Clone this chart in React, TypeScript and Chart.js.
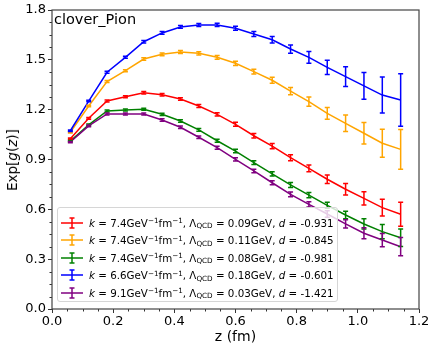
import React, { useEffect, useRef } from 'react';
import { Chart, registerables } from 'chart.js';

Chart.register(...registerables);

const zValues = [0.06, 0.12, 0.18, 0.24, 0.30, 0.36, 0.42, 0.48, 0.54, 0.60, 0.66, 0.72, 0.78, 0.84, 0.90, 0.96, 1.02, 1.08, 1.14];

const redValues = [1.025, 1.148, 1.252, 1.278, 1.302, 1.290, 1.264, 1.222, 1.172, 1.112, 1.043, 0.981, 0.911, 0.847, 0.781, 0.721, 0.666, 0.610, 0.570];
const redErrors = [0.004, 0.005, 0.006, 0.006, 0.007, 0.007, 0.008, 0.009, 0.010, 0.012, 0.014, 0.016, 0.018, 0.020, 0.026, 0.034, 0.040, 0.050, 0.072];

const orangeValues = [1.064, 1.222, 1.369, 1.435, 1.505, 1.533, 1.547, 1.539, 1.515, 1.479, 1.429, 1.377, 1.312, 1.248, 1.178, 1.118, 1.058, 0.998, 0.961];
const orangeErrors = [0.004, 0.005, 0.006, 0.006, 0.007, 0.008, 0.009, 0.010, 0.011, 0.013, 0.015, 0.018, 0.022, 0.028, 0.035, 0.050, 0.065, 0.084, 0.120];

const greenValues = [1.011, 1.108, 1.192, 1.198, 1.202, 1.172, 1.132, 1.078, 1.013, 0.951, 0.881, 0.813, 0.747, 0.686, 0.624, 0.566, 0.512, 0.466, 0.429];
const greenErrors = [0.004, 0.005, 0.006, 0.006, 0.006, 0.007, 0.007, 0.008, 0.009, 0.010, 0.011, 0.013, 0.015, 0.016, 0.018, 0.023, 0.031, 0.043, 0.052];

const blueValues = [1.073, 1.252, 1.425, 1.515, 1.609, 1.662, 1.698, 1.710, 1.710, 1.690, 1.656, 1.621, 1.565, 1.515, 1.455, 1.399, 1.343, 1.288, 1.258];
const blueErrors = [0.004, 0.005, 0.006, 0.006, 0.007, 0.008, 0.008, 0.009, 0.010, 0.012, 0.015, 0.020, 0.025, 0.035, 0.043, 0.060, 0.081, 0.108, 0.158];

const purpleValues = [1.005, 1.102, 1.174, 1.174, 1.174, 1.138, 1.094, 1.034, 0.971, 0.901, 0.831, 0.760, 0.690, 0.630, 0.572, 0.512, 0.456, 0.415, 0.375];
const purpleErrors = [0.004, 0.005, 0.006, 0.006, 0.006, 0.007, 0.007, 0.008, 0.009, 0.010, 0.011, 0.012, 0.014, 0.016, 0.020, 0.025, 0.033, 0.040, 0.055];

const seriesValues = [redValues, orangeValues, greenValues, blueValues, purpleValues];
const seriesErrors = [redErrors, orangeErrors, greenErrors, blueErrors, purpleErrors];
const seriesColors = ['#ff0000', '#ffa500', '#008000', '#0000ff', '#800080'];
const kParams = ['7.4', '7.4', '7.4', '6.6', '9.1'];
const lambdaParams = ['0.09', '0.11', '0.08', '0.18', '0.03'];
const dParams = ['-0.931', '-0.845', '-0.981', '-0.601', '-1.421'];

const xMin = 0;
const xMax = 1.2;
const xStep = 0.2;
const xMinorStep = 0.05;
const yMin = 0;
const yMax = 1.8;
const yStep = 0.3;
const yMinorStep = 0.075;

const FONT = "'DejaVu Sans', sans-serif";

const errorBarPlugin = {
  id: 'errorBars',
  afterDatasetsDraw(chart: any) {
    const ctx = chart.ctx;
    const xs = chart.scales.x;
    const ys = chart.scales.y;
    const cap = 2.5;
    chart.data.datasets.forEach((ds: any) => {
      ctx.save();
      ctx.strokeStyle = ds.borderColor;
      ctx.lineWidth = 1.5;
      ds.data.forEach((p: any, i: number) => {
        const e = ds.errors[i];
        const px = xs.getPixelForValue(p.x);
        const y1 = ys.getPixelForValue(p.y - e);
        const y2 = ys.getPixelForValue(p.y + e);
        ctx.beginPath();
        ctx.moveTo(px, y1);
        ctx.lineTo(px, y2);
        ctx.moveTo(px - cap, y1);
        ctx.lineTo(px + cap, y1);
        ctx.moveTo(px - cap, y2);
        ctx.lineTo(px + cap, y2);
        ctx.stroke();
      });
      ctx.restore();
    });
  },
};

const framePlugin = {
  id: 'frame',
  afterDraw(chart: any) {
    const ctx = chart.ctx;
    const { left, right, top, bottom } = chart.chartArea;
    const xs = chart.scales.x;
    const ys = chart.scales.y;
    ctx.save();
    ctx.strokeStyle = '#333';
    ctx.lineWidth = 1;
    // minor ticks
    ctx.beginPath();
    const nx = Math.round((xMax - xMin) / xMinorStep);
    for (let i = 0; i <= nx; i++) {
      if (i % 4 === 0) continue;
      const px = Math.round(xs.getPixelForValue(xMin + i * xMinorStep)) + 0.5;
      ctx.moveTo(px, bottom);
      ctx.lineTo(px, bottom + 2.5);
    }
    const ny = Math.round((yMax - yMin) / yMinorStep);
    for (let j = 0; j <= ny; j++) {
      if (j % 4 === 0) continue;
      const py = Math.round(ys.getPixelForValue(yMin + j * yMinorStep)) + 0.5;
      ctx.moveTo(left, py);
      ctx.lineTo(left - 2.5, py);
    }
    ctx.stroke();
    ctx.strokeStyle = '#444';
    ctx.lineWidth = 1.2;
    ctx.strokeRect(left, top, right - left, bottom - top);
    ctx.restore();
  },
};

function LegendLabel({ i }: { i: number }) {
  const supStyle: React.CSSProperties = { fontSize: '0.7em', position: 'relative', top: '-0.45em', lineHeight: 0 };
  const subStyle: React.CSSProperties = { fontSize: '0.7em', position: 'relative', top: '0.25em', lineHeight: 0 };
  return (
    <span>
      <i>k</i> = {kParams[i]}GeV<span style={supStyle}>−1</span>fm<span style={supStyle}>−1</span>, Λ
      <span style={subStyle}>QCD</span> = {lambdaParams[i]}GeV, <i>d</i> = {dParams[i]}
    </span>
  );
}

export default function App() {
  const canvasRef = useRef<HTMLCanvasElement | null>(null);

  useEffect(() => {
    if (!canvasRef.current) return;
    const datasets = seriesValues.map((vals, s) => ({
      label: 'series' + s,
      data: zValues.map((z, i) => ({ x: z, y: vals[i] })),
      errors: seriesErrors[s],
      borderColor: seriesColors[s],
      backgroundColor: seriesColors[s],
      borderWidth: 1.5,
      pointRadius: 0,
      tension: 0,
      order: 5 - s,
    }));
    const chart = new Chart(canvasRef.current, {
      type: 'line',
      data: { datasets } as any,
      plugins: [errorBarPlugin, framePlugin],
      options: {
        animation: false,
        responsive: false,
        devicePixelRatio: 1,
        layout: { padding: { left: 0, right: 17, top: 10, bottom: 0 } },
        plugins: { legend: { display: false }, tooltip: { enabled: false } },
        scales: {
          x: {
            type: 'linear',
            min: xMin,
            max: xMax,
            afterFit: (s: any) => {
              s.height = 42;
            },
            ticks: {
              stepSize: xStep,
              color: '#000',
              font: { family: FONT, size: 13 },
              padding: 1,
              maxRotation: 0,
              callback: (v: any) => Number(v).toFixed(1),
            },
            grid: { drawOnChartArea: false, drawTicks: true, tickLength: 4, color: '#333' },
            border: { display: false },
            title: {
              display: true,
              text: 'z (fm)',
              color: '#000',
              font: { family: FONT, size: 14 },
              padding: { top: 0, bottom: 5 },
            },
          },
          y: {
            type: 'linear',
            min: yMin,
            max: yMax,
            afterFit: (s: any) => {
              s.width = 52;
            },
            ticks: {
              stepSize: yStep,
              color: '#000',
              font: { family: FONT, size: 13 },
              padding: 2,
              callback: (v: any) => Number(v).toFixed(1),
            },
            grid: { drawOnChartArea: false, drawTicks: true, tickLength: 4, color: '#333' },
            border: { display: false },
          },
        },
      } as any,
    });
    return () => chart.destroy();
  }, []);

  const legendTop = 207;
  const legendLeft = 57;
  const rowCenter0 = 15.7;
  const rowGap = 17.5;

  return (
    <div style={{ position: 'fixed', left: 0, top: 0, width: 436, height: 351, background: '#fff', fontFamily: FONT }}>
      <canvas ref={canvasRef} width={436} height={351} style={{ display: 'block' }} />
      <div style={{ position: 'absolute', left: 54, top: 11, fontSize: 14.5, color: '#000', whiteSpace: 'nowrap' }}>clover_Pion</div>
      <div
        style={{
          position: 'absolute',
          left: 12,
          top: 160,
          transform: 'translate(-50%, -50%) rotate(-90deg)',
          fontSize: 13.5,
          color: '#000',
          whiteSpace: 'nowrap',
        }}
      >
        Exp[<i>g</i>(<i>z</i>)]
      </div>
      <div
        style={{
          position: 'absolute',
          left: legendLeft,
          top: legendTop,
          width: 281,
          height: 95,
          boxSizing: 'border-box',
          border: '1px solid #d6d6d6',
          borderRadius: 3,
          background: 'rgba(255,255,255,0.8)',
        }}
      >
        {seriesColors.map((c, i) => {
          const cy = rowCenter0 + i * rowGap - 1;
          return (
            <div key={i}>
              <svg
                width={22}
                height={12}
                style={{ position: 'absolute', left: 3, top: cy - 6 }}
              >
                <line x1={0} y1={6} x2={22} y2={6} stroke={c} strokeWidth={1.5} />
                <line x1={11} y1={1} x2={11} y2={11} stroke={c} strokeWidth={1.5} />
                <line x1={8.5} y1={1} x2={13.5} y2={1} stroke={c} strokeWidth={1.5} />
                <line x1={8.5} y1={11} x2={13.5} y2={11} stroke={c} strokeWidth={1.5} />
              </svg>
              <div
                style={{
                  position: 'absolute',
                  left: 31,
                  top: cy - 8,
                  height: 16,
                  lineHeight: '16px',
                  fontSize: 10.3,
                  color: '#000',
                  whiteSpace: 'nowrap',
                }}
              >
                <LegendLabel i={i} />
              </div>
            </div>
          );
        })}
      </div>
    </div>
  );
}
